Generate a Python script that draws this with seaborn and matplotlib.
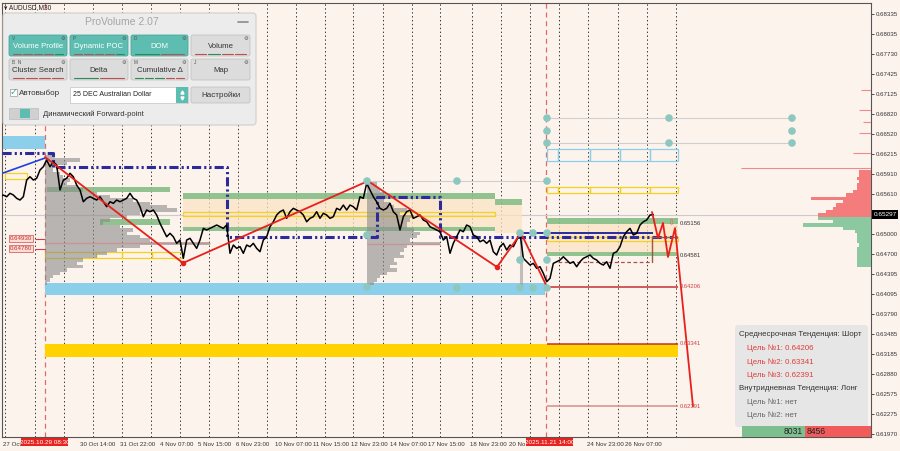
import numpy as np
import matplotlib
matplotlib.use("Agg")
import matplotlib.pyplot as plt
from matplotlib.patches import Rectangle, FancyBboxPatch
import seaborn as sns

# AUDUSD M30, one sample roughly every 3 bars (x axis = sample index)
price = [
    0.65567, 0.65593, 0.65567, 0.65619, 0.65593, 0.65543, 0.65517, 0.65567, 0.65820, 0.65870,
    0.65820, 0.65846, 0.65972, 0.66022, 0.66123, 0.66022, 0.66097, 0.66047, 0.65669, 0.65820,
    0.65846, 0.65922, 0.65870, 0.65744, 0.65669, 0.65491, 0.65543, 0.65567, 0.65543, 0.65517,
    0.65567, 0.65491, 0.65416, 0.65491, 0.65467, 0.65517, 0.65491, 0.65517, 0.65543, 0.65619,
    0.65543, 0.65517, 0.65416, 0.65264, 0.65366, 0.65340, 0.65366, 0.65290, 0.65164, 0.65063,
    0.64961, 0.65013, 0.64961, 0.64861, 0.64911, 0.64634, 0.64911, 0.64937, 0.64861, 0.64785,
    0.64911, 0.65088, 0.65063, 0.65088, 0.65113, 0.65138,
    0.65113, 0.65088, 0.65138, 0.64710, 0.64835, 0.64785, 0.64810, 0.64710, 0.64835, 0.64810,
    0.64861, 0.64785, 0.64734, 0.64911, 0.64961, 0.65113, 0.65188, 0.65290, 0.65340, 0.65366,
    0.65240, 0.65340, 0.65391, 0.65366, 0.65340, 0.65290, 0.65188, 0.65240, 0.65264, 0.65340,
    0.65240, 0.65316, 0.65290, 0.65240, 0.65264, 0.65391, 0.65366, 0.65441, 0.65366, 0.65441,
    0.65416, 0.65366, 0.65567, 0.65543, 0.65770, 0.65669, 0.65567, 0.65491, 0.65391, 0.65366,
    0.65391, 0.65467, 0.65340, 0.65290, 0.65063, 0.65264, 0.65340, 0.65366, 0.65240, 0.65264,
    0.65290, 0.65214, 0.65188, 0.65113, 0.65088, 0.65063,
    0.65037, 0.64911, 0.64961, 0.64710, 0.64861, 0.64961, 0.65063, 0.65037, 0.65138, 0.65113,
    0.64987, 0.64961, 0.64885, 0.64911, 0.64861, 0.64911, 0.64734, 0.64684, 0.64810, 0.64861,
    0.64760, 0.64835, 0.64810, 0.64911, 0.65013, 0.64634, 0.64582, 0.64532, 0.64558, 0.64482,
    0.64507, 0.64407, 0.64279, 0.64331, 0.64558, 0.64582, 0.64608, 0.64658, 0.64608, 0.64558,
    0.64582, 0.64507, 0.64582, 0.64634, 0.64658, 0.64684, 0.64634, 0.64608, 0.64558, 0.64532,
    0.64582, 0.64482, 0.64710, 0.64734, 0.64810, 0.64961, 0.65037, 0.65088, 0.64987, 0.65013,
    0.65138, 0.65188, 0.65214, 0.65290, 0.65297,
]
last_price = 0.65297

day_lines = [1.5, 10.5, 19.2, 27.9, 36.6, 45.3, 54.0, 62.7, 71.4, 80.1, 88.8, 97.5, 105.9,
             114.9, 123.6, 132.0, 141.6, 150.3, 159.0, 167.7, 176.4, 185.4, 194.1, 202.8]
session_lines = [13.5, 163.8]

# date labels (the ones hidden under the red session tags are cut as in the terminal)
tick_pos = [0.9, 24.0, 36.0, 48.0, 59.4, 70.8, 82.5, 93.9, 105.3, 117.0, 128.4,
            141.0, 152.7, 176.1, 187.5]
tick_labels = ["27 Oct", "30 Oct 14:00", "31 Oct 22:00", "4 Nov 07:00",
               "5 Nov 15:00", "6 Nov 23:00", "10 Nov 07:00", "11 Nov 15:00", "12 Nov 23:00",
               "14 Nov 07:00", "17 Nov 15:00", "18 Nov 23:00", "20 No",
               "24 Nov 23:00", "26 Nov 07:00"]
y_ticks = [0.68335, 0.68035, 0.67730, 0.67425, 0.67125, 0.66820, 0.66520, 0.66215, 0.65910,
           0.65610, 0.65000, 0.64700, 0.64395, 0.64095, 0.63790, 0.63485, 0.63185, 0.62880,
           0.62575, 0.62275, 0.61970]

# zigzag / forecast
zigzag_x = [13.5, 54.9, 110.4, 149.1, 156.3, 164.1]
zigzag_p = [0.66169, 0.64563, 0.65805, 0.64502, 0.65017, 0.64199]
forecast_x = [195.6, 197.4, 198.9, 200.4, 202.5, 207.9]
forecast_p = [0.65335, 0.64941, 0.65169, 0.64654, 0.65093, 0.62391]
trend_x = [0.9, 13.5]
trend_p = [0.65926, 0.66153]
poc_x = [0.6, 15.9, 15.9, 68.1, 68.1, 113.1, 113.1, 132.0, 132.0, 203.1]
poc_p = [0.66237, 0.66237, 0.66022, 0.66022, 0.64957, 0.64957, 0.65563, 0.65563, 0.64957, 0.64957]

# zones (start, end, low, high)
sky_bands = [(0.6, 13.5, 0.66290, 0.66487), (13.5, 163.5, 0.64078, 0.64260)]
green_bands = [(14.1, 51.0, 0.65638, 0.65714), (30.0, 51.0, 0.65138, 0.65229),
               (54.9, 148.5, 0.65532, 0.65623), (54.9, 148.5, 0.65047, 0.65116),
               (148.5, 156.6, 0.65441, 0.65532),
               (164.1, 203.4, 0.65154, 0.65244), (164.1, 203.4, 0.64669, 0.64729)]
beige_zones = [(54.9, 148.5, 0.65116, 0.65532), (148.5, 156.6, 0.65017, 0.65441),
               (164.1, 203.4, 0.64729, 0.65154)]
yellow_boxes = [(1.5, 8.1, 0.65835, 0.65926), (13.5, 28.8, 0.64638, 0.64729),
                (28.8, 36.6, 0.64638, 0.64729), (36.6, 45.6, 0.64638, 0.64729),
                (45.6, 54.6, 0.64638, 0.64729), (54.9, 148.5, 0.65282, 0.65343),
                (164.1, 203.4, 0.64896, 0.64957)]
gold_band = (13.5, 203.4, 0.63139, 0.63341)
future_splits = [164.1, 167.4, 177.0, 186.0, 195.0, 203.4]
future_sky = (0.66108, 0.66290)
future_yellow = (0.65623, 0.65714)

targets = [0.64206, 0.63341, 0.62391]
levels_right = [(0.65156, "0.65156"), (0.64684, "0.64581")]
left_labels = [0.64930, 0.64780]

# teal markers
dots_x = [164.1, 164.1, 164.1, 200.7, 200.7, 237.6, 237.6, 237.6, 110.1, 137.1, 164.1,
          110.1, 156.0, 159.9, 164.1, 156.0, 164.1, 110.1, 137.1, 156.0, 159.9, 164.1]
dots_p = [0.66759, 0.66562, 0.66381, 0.66759, 0.66381, 0.66759, 0.66562, 0.66381, 0.65805,
          0.65805, 0.65805, 0.64987, 0.65017, 0.65017, 0.65017, 0.64608, 0.64608, 0.64199,
          0.64184, 0.64184, 0.64184, 0.64184]

# volume profiles (widths in sample units)
prof_left_w = [3, 10.5, 6.6, 3.6, 2.4, 4.5, 5.4, 7.5, 6.6, 9.6, 11.4, 15.6, 19.5, 26.4, 31.5,
               36.6, 39.6, 28.5, 24.6, 19.5, 17.4, 22.5, 26.4, 24.6, 28.5, 31.5, 49.5, 28.5,
               21.6, 18.6, 15.6, 11.4, 9.6, 11.4, 6.6, 4.5, 2.4, 1.5, 0.6]
prof_left_range = (0.66173, 0.64255)
prof_mid_w = [3, 3, 3.9, 5.1, 6, 5.1, 6.9, 8.1, 12, 9.9, 14.1, 12.9, 12, 12, 14.1, 15.9, 15,
              12.9, 21.9, 12, 11.1, 9.9, 11.1, 8.1, 9, 6.9, 9, 6, 3.9, 3, 2.1, 0.9]
prof_mid_range = (0.65770, 0.64204)
ask_w = [3.6, 3.6, 4.2, 3.6, 4.2, 4.2, 5.4, 7.5, 18, 8.4, 10.5, 11.4, 13.5, 15.9]
ask_range = (0.65946, 0.65290)
bid_w = [15.9, 11.4, 20.4, 8.4, 4.8, 4.2, 4.2, 4.2, 3.6, 4.2, 4.2, 4.2, 4.2, 4.2, 4.2]
bid_range = (0.65240, 0.64532)
ask_thin_p = [0.67184, 0.66881, 0.66699, 0.66532, 0.66229, 0.66002]
ask_thin_w = [3, 3.6, 2.4, 3.6, 5.4, 39]

sns.set_style("white")
plt.rcParams["font.family"] = ["Liberation Sans", "DejaVu Sans"]

BG = "#fdf3ed"
W, H = 900, 451
fig = plt.figure(figsize=(9, 4.51), dpi=100, facecolor=BG)
ax = fig.add_axes([2 / W, 1 - 437 / H, 869 / W, 434 / H], facecolor=BG)
XMAX = 261.3
ax.set_xlim(0.6, XMAX)
ax.set_ylim(0.61927, 0.68502)


def box(x0, x1, lo, hi, **kw):
    ax.add_patch(Rectangle((x0, lo), x1 - x0, hi - lo, **kw))


for x in day_lines:
    ax.axvline(x, color="#3a3a3a", lw=0.7, ls=(0, (1.5, 2.5)), zorder=1)
for x in session_lines:
    ax.axvline(x, color="#e06a6a", lw=0.9, ls=(0, (4, 3)), zorder=1)
ax.axhline(last_price, color="#cbcbcb", lw=0.8, zorder=1)

for x0, x1, lo, hi in beige_zones:
    box(x0, x1, lo, hi, fc="#fbe2c4", ec="none", alpha=0.75, zorder=1.5)
for x0, x1, lo, hi in sky_bands:
    box(x0, x1, lo, hi, fc="#8ccfeb", ec="none", zorder=2)
for x0, x1, lo, hi in green_bands:
    box(x0, x1, lo, hi, fc="#86bd86", ec="none", alpha=0.9, zorder=2)
for x0, x1, lo, hi in yellow_boxes:
    box(x0, x1, lo, hi, fill=False, ec="#f2d21a", lw=0.9, zorder=2.2)
box(*gold_band, fc="#ffd200", ec="none", zorder=2)
for a, b in zip(future_splits[:-1], future_splits[1:]):
    box(a, b, *future_sky, fill=False, ec="#8ccfeb", lw=0.9, zorder=2)
    box(a, b, *future_yellow, fill=False, ec="#f2d21a", lw=0.9, zorder=2)

# gray thin guide lines
ax.hlines([0.66759, 0.66381], 164.1, 237.6, color="#cfcfcf", lw=0.8, zorder=2)
ax.hlines(0.65805, 110.1, 164.1, color="#cfcfcf", lw=0.8, zorder=2)

# volume profiles
for w, (top, bot), x0 in [(prof_left_w, prof_left_range, 13.5),
                          (prof_mid_w, prof_mid_range, 110.1)]:
    lv = np.linspace(top, bot, len(w))
    ax.barh(lv, w, height=(top - bot) / (len(w) - 1), left=x0, color="#8a8a8a",
            alpha=0.6, lw=0, zorder=3)
for w, (top, bot), col in [(ask_w, ask_range, "#f47c7c"), (bid_w, bid_range, "#8cc8a0")]:
    lv = np.linspace(top, bot, len(w))
    w = np.array(w)
    ax.barh(lv, w, height=(top - bot) / (len(w) - 1), left=XMAX - w, color=col, lw=0, zorder=3)
ax.hlines(ask_thin_p, XMAX - np.array(ask_thin_w), XMAX, color="#f08a8a", lw=0.8, zorder=3)
ax.plot([156.3, 156.3], [0.64184, 0.65017], color="#9a9a9a", lw=2.2, alpha=0.6, zorder=3)

# POC lines / levels
ax.hlines(0.64861, 13.5, 63.0, color="#c99494", lw=1.0, zorder=3.5)
ax.hlines(0.64851, 110.1, 132.0, color="#c99494", lw=1.0, zorder=3.5)
ax.plot(poc_x, poc_p, color="#2b2b9c", lw=2.2, ls=(0, (3, 1, 0.7, 1, 0.7, 1)), zorder=4)
ax.hlines(0.65017, 156.0, 196.0, color="#2b2b9c", lw=1.4, zorder=4)
ax.hlines(targets, 164.1, 203.4, colors=["#c43030", "#c43030", "#d98a8a"], lw=1.1, zorder=4)
ax.plot([195.6, 195.6, 203.1], [0.64578, 0.64957, 0.64957], color="#9a5a3a", lw=1.0, zorder=4)
ax.hlines(0.64578, 167.4, 195.6, color="#b05050", lw=0.9, ls=(0, (3, 2)), zorder=4)
for lp in left_labels:
    ax.hlines(lp, 10.5, 13.5, color="#d04040", lw=0.8, zorder=4)
    ax.text(3.0, lp, f"{lp:.5f}", fontsize=4.4, color="#d03030", va="center", zorder=8,
            bbox=dict(fc="#f8dcd6", ec="#e06060", lw=0.6, pad=0.6))

# price and zigzags
sns.lineplot(x=np.arange(len(price)), y=price, ax=ax, color="black", lw=1.1,
             estimator=None, sort=False, zorder=5)
sns.lineplot(x=trend_x, y=trend_p, ax=ax, color="#1f3fe0", lw=1.2, estimator=None, zorder=5)
sns.lineplot(x=zigzag_x, y=zigzag_p, ax=ax, color="#e8201c", lw=1.3, estimator=None,
             sort=False, zorder=6)
sns.lineplot(x=forecast_x, y=forecast_p, ax=ax, color="#e8201c", lw=1.3, estimator=None,
             sort=False, zorder=6)
ax.scatter([zigzag_x[1], zigzag_x[3]], [zigzag_p[1], zigzag_p[3]], s=9, color="#e8201c", zorder=6)
sns.scatterplot(x=dots_x, y=dots_p, ax=ax, s=30, color="#8dc8c0", edgecolor="none", zorder=7)
ax.text(201.3, 0.65150, "⇩", color="#e06060", fontsize=6, ha="center", va="center", zorder=7)

for t in targets:
    ax.text(204.0, t, f"{t:.5f}", fontsize=4.2, color="#d04040", va="center", zorder=7)
for p, lab in levels_right:
    ax.text(204.0, p, lab, fontsize=4.2, color="#333333", va="center", zorder=7)

# axes styling
ax.yaxis.tick_right()
ax.set_yticks(y_ticks)
ax.set_yticklabels([f"{v:.5f}" for v in y_ticks])
ax.set_xticks(tick_pos)
ax.set_xticklabels(tick_labels, ha="left")
ax.tick_params(axis="both", labelsize=4.4, length=2, pad=1.5, colors="#333333", width=0.6)
ax.set_xlabel("")
ax.set_ylabel("")
for s in ax.spines.values():
    s.set_color("#555555")
    s.set_linewidth(0.8)

# ---- overlay in pixel coordinates for the UI widgets ----
ov = fig.add_axes([0, 0, 1, 1], zorder=10)
ov.set_xlim(0, W)
ov.set_ylim(H, 0)
ov.axis("off")
ov.patch.set_alpha(0)

TEAL = "#5dbdb0"
ov.text(4, 8, "▾ AUDUSD,M30", fontsize=4.8, va="center", color="#222222")

# ProVolume panel
ov.add_patch(FancyBboxPatch((3, 13), 253, 112, boxstyle="round,pad=0,rounding_size=3",
                            fc="#ececec", ec="#cfcfcf", lw=0.8))
ov.text(122, 22, "ProVolume 2.07", ha="center", va="center", fontsize=7.5, color="#a5a5a5")
ov.plot([238, 248], [22, 22], color="#8a8a8a", lw=1.2)

buttons = [("Volume Profile", 9, 35, 67, 56, "V", True, ["#c05050"] * 4 + ["#2e8b57"]),
           ("Dynamic POC", 70, 35, 128, 56, "P", True, ["#c05050"] * 4 + ["#2e8b57"]),
           ("DOM", 131, 35, 188, 56, "D", True, ["#2e8b57", "#c05050"]),
           ("Volume", 191, 35, 250, 56, "", False, ["#c05050", "#2e8b57", "#c05050", "#c05050"]),
           ("Cluster Search", 9, 59, 67, 80, "B  N", False, ["#c05050"] * 4),
           ("Delta", 70, 59, 128, 80, "", False, ["#2e8b57", "#c05050"]),
           ("Cumulative Δ", 131, 59, 188, 80, "M", False,
            ["#2e8b57", "#2e8b57", "#2e8b57", "#c05050", "#c05050"]),
           ("Map", 191, 59, 250, 80, "J", False, [])]
for lab, x0, y0, x1, y1, key, on, inds in buttons:
    ov.add_patch(FancyBboxPatch((x0, y0), x1 - x0, y1 - y0, boxstyle="round,pad=0,rounding_size=2",
                                fc=TEAL if on else "#dcdcdc", ec="#4aa99c" if on else "#c4c4c4", lw=0.6))
    ov.text((x0 + x1) / 2, y0 + 11, lab, ha="center", va="center", fontsize=5.6,
            color="white" if on else "#333333")
    if key:
        ov.text(x0 + 3, y0 + 3.5, key, fontsize=3.4, va="center", color="#555555")
    ov.text(x1 - 4, y0 + 3.5, "⚙", fontsize=3.8, ha="center", va="center", color="#555555")
    n = len(inds)
    for k, c in enumerate(inds):
        seg = (x1 - x0 - 6) / max(n, 1)
        a = x0 + 3 + k * seg
        ov.plot([a + 1, a + seg - 1], [y1 - 2.5, y1 - 2.5], color=c, lw=0.8)

ov.add_patch(Rectangle((10, 89), 7, 7, fc="white", ec="#999999", lw=0.5))
ov.text(13.5, 92, "✓", color="#3aaa9a", fontsize=7, ha="center", va="center")
ov.text(19, 93, "Автовыбор", fontsize=5.8, va="center", color="#333333")
ov.add_patch(Rectangle((70, 87), 118, 16, fc="white", ec="#cccccc", lw=0.6))
ov.add_patch(Rectangle((176, 87), 12, 16, fc=TEAL, ec="none"))
ov.plot([182], [92], marker="^", ms=2.2, color="white")
ov.plot([182], [98], marker="v", ms=2.2, color="white")
ov.text(73, 95, "25 DEC Australian Dollar", fontsize=5.0, va="center", color="#222222")
ov.add_patch(FancyBboxPatch((191, 87), 59, 16, boxstyle="round,pad=0,rounding_size=2",
                            fc="#dcdcdc", ec="#c4c4c4", lw=0.6))
ov.text(220.5, 95, "Настройки", fontsize=5.8, ha="center", va="center", color="#333333")
ov.add_patch(Rectangle((9, 108), 29, 11, fc="#d0d0d0", ec="#bbbbbb", lw=0.5))
ov.add_patch(Rectangle((20, 109), 10, 9, fc=TEAL, ec="none"))
ov.text(43, 114, "Динамический Forward-point", fontsize=5.5, va="center", color="#333333")

# trend info box
ov.add_patch(FancyBboxPatch((735, 325), 133, 102, boxstyle="round,pad=0,rounding_size=3",
                            fc="#e6e6e6", ec="none"))
info = [("Среднесрочная Тенденция: Шорт", 739, 335, "#333333"),
        ("Цель №1: 0.64206", 747, 348, "#e03c3c"),
        ("Цель №2: 0.63341", 747, 362, "#e03c3c"),
        ("Цель №3: 0.62391", 747, 375, "#e03c3c"),
        ("Внутридневная Тенденция: Лонг", 739, 388, "#333333"),
        ("Цель №1: нет", 747, 402, "#666666"),
        ("Цель №2: нет", 747, 415, "#666666")]
for txt, x, y, c in info:
    ov.text(x, y, txt, fontsize=5.7, va="center", color=c)
ov.add_patch(Rectangle((742, 426), 63, 11, fc="#7dbf8f", ec="none"))
ov.add_patch(Rectangle((805, 426), 66, 11, fc="#f25b5b", ec="none"))
ov.text(803, 431.5, "8031", fontsize=6.2, ha="right", va="center", color="#222222")
ov.text(807, 431.5, "8456", fontsize=6.2, ha="left", va="center", color="#222222")

# current price tag and session date tags
ov.add_patch(Rectangle((872, 210), 26, 9, fc="black", ec="none"))
ov.text(885, 214.5, f"{last_price:.5f}", fontsize=4.6, ha="center", va="center", color="white")
for x0, x1, lab in [(21, 68, "2025.10.29 08:30"), (526, 573, "2025.11.21 14:00")]:
    ov.add_patch(Rectangle((x0, 438), x1 - x0, 8, fc="#e8221e", ec="none"))
    ov.text((x0 + x1) / 2, 442, lab, fontsize=4.6, ha="center", va="center", color="white")

fig.savefig("out.png", dpi=100, facecolor=BG)
